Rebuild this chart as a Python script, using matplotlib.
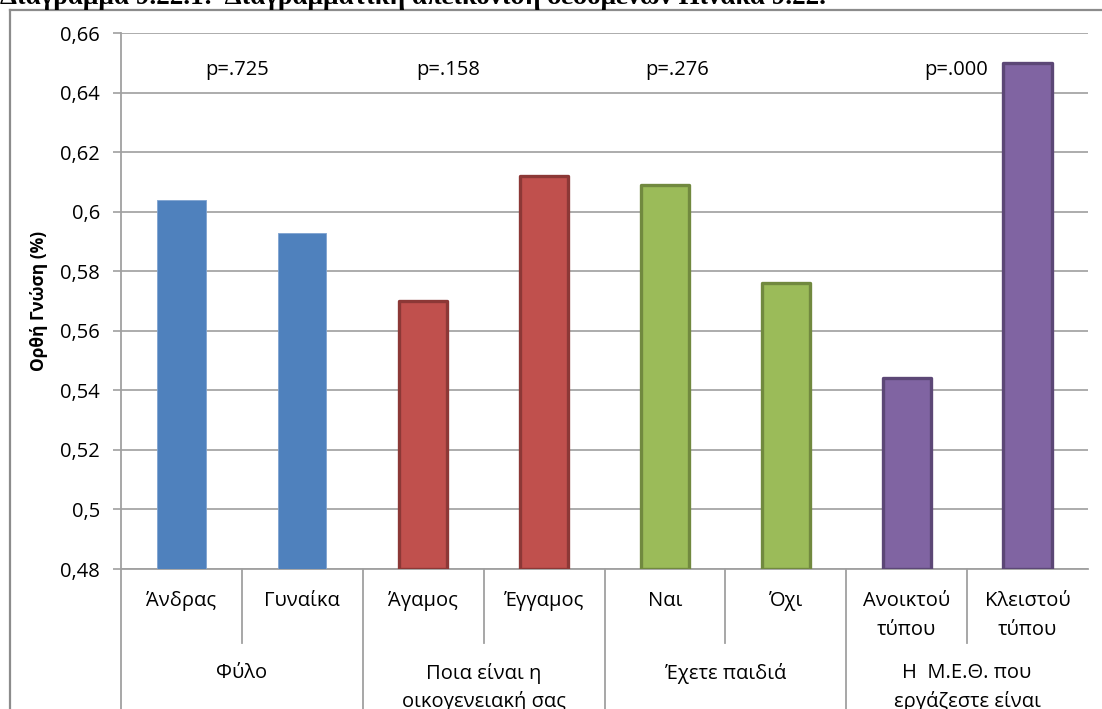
"""Bar chart of correct knowledge by demographic group (Greek labels)."""

import matplotlib
matplotlib.use("Agg")
import matplotlib.pyplot as plt
from matplotlib.lines import Line2D
from matplotlib.ticker import FuncFormatter, MultipleLocator

plt.rcParams['font.family'] = ['Open Sans', 'DejaVu Sans']

# data
categories = ['Άνδρας', 'Γυναίκα', 'Άγαμος', 'Έγγαμος', 'Ναι', 'Όχι',
              'Ανοικτού\nτύπου', 'Κλειστού\nτύπου']
values = [0.604, 0.593, 0.570, 0.612, 0.609, 0.576, 0.544, 0.650]
groups = ['Φύλο', 'Ποια είναι η\nοικογενειακή σας', 'Έχετε παιδιά',
          'Η  Μ.Ε.Θ. που\nεργάζεστε είναι']
p_labels = ['p=.725', 'p=.158', 'p=.276', 'p=.000']
p_xpos = [0.46, 2.21, 4.10, 6.41]
p_ypos = 0.6476

fills = ['#4F81BD', '#C0504D', '#9BBB59', '#8064A2']
edges = ['#7FA3D0', '#8C3836', '#71893F', '#5C4776']
edge_widths = [0.6, 2.4, 2.4, 2.4]

FS = 14.5
W, H = 1102, 709
LEFT, RIGHT, TOP, BOTTOM = 121, 1088, 33, 569
fig = plt.figure(figsize=(W / 100, H / 100), dpi=100)
ax = fig.add_axes([LEFT / W, 1 - BOTTOM / H, (RIGHT - LEFT) / W,
                   (BOTTOM - TOP) / H])

x = list(range(len(values)))
for i, v in enumerate(values):
    g = i // 2
    ax.bar(x[i], v - 0.48, bottom=0.48, width=0.40, color=fills[g],
           edgecolor=edges[g], linewidth=edge_widths[g], zorder=3,
           joinstyle='round')

ax.set_xlim(-0.5, 7.5)
ax.set_ylim(0.48, 0.66)
ax.yaxis.set_major_locator(MultipleLocator(0.02))
ax.yaxis.set_major_formatter(FuncFormatter(
    lambda v, _: f"{round(v, 2):g}".replace('.', ',')))
ax.tick_params(axis='y', labelsize=FS, length=6, width=1.2,
               color='#A0A0A0', pad=9, labelcolor='black')
ax.set_xticks([])
ax.grid(axis='y', color='#A6A6A6', linewidth=1.3, zorder=0)

for side in ['top', 'right']:
    ax.spines[side].set_visible(False)
for side in ['left', 'bottom']:
    ax.spines[side].set_color('#A0A0A0')
    ax.spines[side].set_linewidth(1.3)

ax.set_ylabel('Ορθή Γνώση (%)', fontsize=12.5, fontweight='bold', labelpad=9)

for xp, lab in zip(p_xpos, p_labels):
    ax.text(xp, p_ypos, lab, ha='center', va='center', fontsize=FS)

# multi-level category axis below the plot, one text per line
trans = ax.get_xaxis_transform()
px = 1 / (BOTTOM - TOP)
for i, lab in enumerate(categories):
    for j, line in enumerate(lab.split('\n')):
        ax.text(x[i], -(601 + 29 * j - BOTTOM) * px, line, transform=trans,
                ha='center', va='center', fontsize=FS)
for k, lab in enumerate(groups):
    for j, line in enumerate(lab.split('\n')):
        ax.text(2 * k + 0.5, -(673 + 29 * j - BOTTOM) * px, line,
                transform=trans, ha='center', va='center', fontsize=FS)

for k in range(4):
    # short separator between the two bars of a group
    ax.add_line(Line2D([2 * k + 0.5] * 2, [0, -(643 - BOTTOM) * px],
                       transform=trans, color='#A0A0A0', linewidth=1.3,
                       clip_on=False))
for b in [-0.5, 1.5, 3.5, 5.5]:
    ax.add_line(Line2D([b, b], [0, -0.4], transform=trans, color='#A0A0A0',
                       linewidth=1.3, clip_on=False))

# outer chart frame and page heading above it
fig.add_artist(Line2D([10 / W, 10 / W], [0, 1 - 10 / H], color='#8C8C8C',
                      linewidth=1.6))
fig.add_artist(Line2D([10 / W, 1], [1 - 10 / H, 1 - 10 / H], color='#8C8C8C',
                      linewidth=1.6))
fig.text(0.0, 1 - 4 / H,
         'Διάγραμμα 9.22.1:  Διαγραμματική απεικόνιση δεδομένων Πίνακα 9.22.',
         family=['Liberation Serif', 'DejaVu Serif'], fontweight='bold',
         fontsize=19.5, ha='left', va='baseline')

fig.savefig('out.png', dpi=100)
